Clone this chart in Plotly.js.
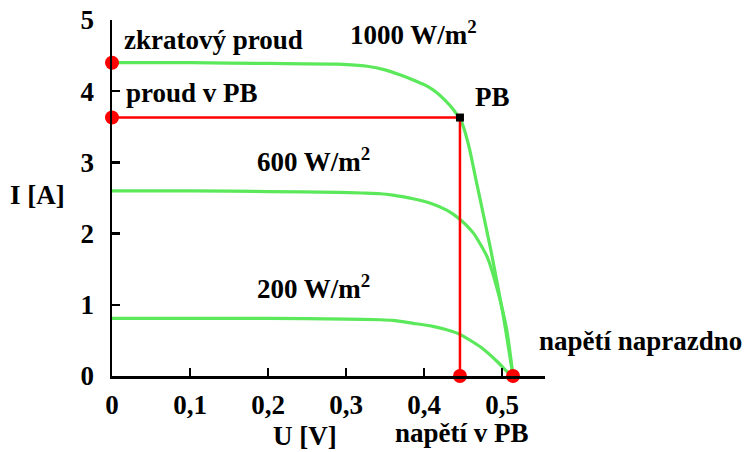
<!DOCTYPE html>
<html>
<head>
<meta charset="utf-8">
<script src="https://cdn.plot.ly/plotly-3.0.1.min.js"></script>
<style>html,body{margin:0;padding:0;background:#fff;}#chart{width:749px;height:452px;}</style>
</head>
<body>
<div id="chart"></div>
<script>
// I-V curves of a solar cell (U in V, I in A)
const u1000 = [0, 0.10, 0.20, 0.29, 0.327, 0.350, 0.369, 0.390, 0.404, 0.416, 0.427, 0.437, 0.441, 0.446, 0.451, 0.458, 0.468, 0.485, 0.501, 0.514];
const i1000 = [4.40, 4.40, 4.39, 4.38, 4.35, 4.30, 4.23, 4.14, 4.07, 3.98, 3.87, 3.75, 3.69, 3.62, 3.48, 3.20, 2.68, 1.80, 0.88, 0];
const u600 = [0, 0.10, 0.20, 0.29, 0.320, 0.344, 0.360, 0.386, 0.410, 0.429, 0.445, 0.463, 0.481, 0.494, 0.506, 0.514];
const i600 = [2.60, 2.60, 2.59, 2.58, 2.57, 2.56, 2.54, 2.49, 2.42, 2.33, 2.21, 2.01, 1.67, 1.21, 0.65, 0];
const u200 = [0, 0.10, 0.20, 0.30, 0.344, 0.360, 0.386, 0.410, 0.429, 0.445, 0.472, 0.494, 0.508, 0.512];
const i200 = [0.81, 0.81, 0.81, 0.80, 0.79, 0.78, 0.74, 0.70, 0.65, 0.59, 0.41, 0.20, 0.04, 0];
const uPB = 0.446, iPB = 3.63, iSC = 4.40, uOC = 0.514;
const xTicks = [0, 0.1, 0.2, 0.3, 0.4, 0.5];
const xTickText = ['0', '0,1', '0,2', '0,3', '0,4', '0,5'];
const yTicks = [0, 1, 2, 3, 4, 5];
const labels = {
  isc: 'zkratový proud', ipb: 'proud v PB', g1000: '1000 W/m<sup>2</sup>', pb: 'PB',
  g600: '600 W/m<sup>2</sup>', g200: '200 W/m<sup>2</sup>', uoc: 'napětí naprazdno',
  upb: 'napětí v PB', xt: 'U [V]', yt: 'I [A]'
};

const FONT = 'Liberation Serif, Times New Roman, serif';
const green = '#5be85b';
const curve = (x, y) => ({x, y, mode: 'lines', type: 'scatter', line: {color: green, width: 3.2, shape: 'spline', smoothing: 0.6}, hoverinfo: 'skip', cliponaxis: false});

const traces = [
  curve(u1000, i1000), curve(u600, i600), curve(u200, i200),
  {x: [0, uPB, uPB], y: [iPB, iPB, 0], mode: 'lines', line: {color: '#ff0000', width: 2.5}, cliponaxis: false},
  {x: [0, 0, uPB, uOC], y: [iSC, iPB, 0, 0], mode: 'markers', marker: {color: '#ff0000', size: 14}, cliponaxis: false},
  {x: [uPB], y: [iPB], mode: 'markers', marker: {color: '#000', size: 8, symbol: 'square'}, cliponaxis: false}
];

const ann = (text, x, y, anchor, ref, yanchor) => ({text: '<b>' + text + '</b>', x, y,
  xref: ref ? 'paper' : 'x', yref: ref ? 'paper' : 'y', xanchor: anchor || 'left', yanchor: yanchor || 'middle',
  showarrow: false, font: {family: FONT, size: 27, color: '#000'}});

const layout = {
  width: 749, height: 452,
  margin: {l: 112, r: 204, t: 20, b: 76},
  paper_bgcolor: '#fff', plot_bgcolor: '#fff',
  showlegend: false,
  font: {family: FONT, size: 27, color: '#000'},
  xaxis: {range: [0, 0.555], showgrid: false, zeroline: false, showline: true, linecolor: '#000', linewidth: 2.5,
    ticks: 'inside', ticklen: 8, tickwidth: 2.5, tickcolor: '#000', tickvals: xTicks, ticktext: xTickText.map(t => '<b>' + t + '</b>'),
    tickfont: {family: FONT, size: 27, color: '#000'}, ticklabelstandoff: 3, fixedrange: true},
  yaxis: {range: [0, 5], showgrid: false, zeroline: false, showline: true, linecolor: '#000', linewidth: 2.5,
    ticks: 'inside', ticklen: 8, tickwidth: 2.5, tickcolor: '#000', tickvals: yTicks, ticktext: yTicks.map(t => '<b>' + t + '</b>'),
    tickfont: {family: FONT, size: 27, color: '#000'}, ticklabelstandoff: 10, fixedrange: true},
  annotations: [
    ann(labels.isc, 0.0128, 4.72),
    ann(labels.ipb, 0.015, 3.97),
    ann(labels.g1000, 0.3026, 4.82),
    ann(labels.pb, 0.463, 3.92),
    ann(labels.g600, 0.183, 3.04),
    ann(labels.g200, 0.183, 1.25),
    ann(labels.uoc, 0.545, 0.49),
    ann(labels.upb, 0.649, -0.208, 'left', true, 'bottom'),
    ann(labels.xt, 0.446, -0.169, 'center', true),
    ann(labels.yt, -0.173, 0.508, 'center', true)
  ]
};

Plotly.newPlot('chart', traces, layout, {staticPlot: true, displayModeBar: false});
</script>
</body>
</html>
